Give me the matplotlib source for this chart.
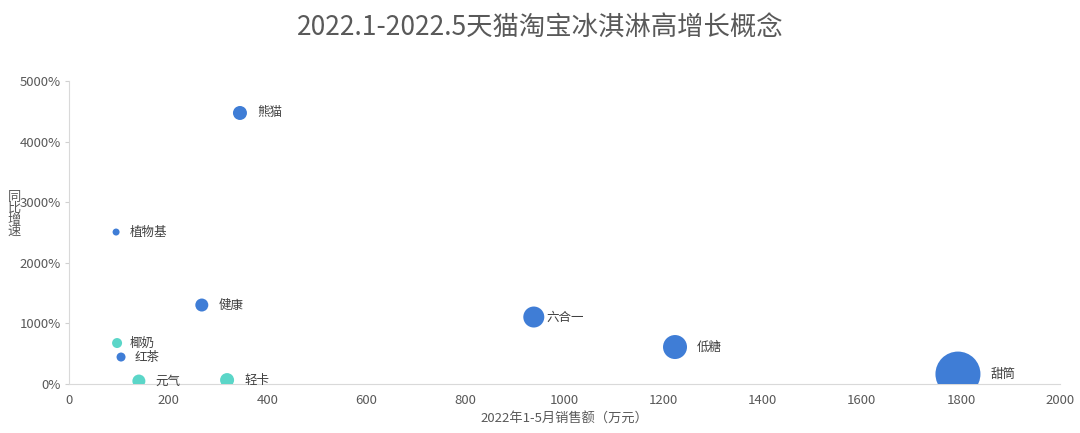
import matplotlib
matplotlib.use("Agg")
import matplotlib.pyplot as plt
from matplotlib.ticker import FuncFormatter

plt.rcParams['font.family'] = ['Noto Sans CJK SC', 'DejaVu Sans']

# data
names = ["熊猫", "植物基", "健康", "六合一", "低糖", "甜筒", "椰奶", "红茶", "元气", "轻卡"]
sales = [345, 95, 268, 938, 1223, 1794, 97, 105, 141, 319]          # 万元
growth = [4472, 2508, 1304, 1106, 611, 165, 677, 446, 50, 66]       # %
radius = [7, 3.5, 6.5, 10.5, 12, 22.5, 5, 4.5, 6.5, 7]              # bubble radius, px
group = ["b", "b", "b", "b", "b", "b", "t", "b", "t", "t"]
gap = [10, 10, 10, 2, 10, 10, 8, 9, 10, 10]                         # label gap, px

colors = {"b": "#3f7dd6", "t": "#5bd6c8"}

fig = plt.figure(figsize=(10.8, 4.33), dpi=100)
ax = fig.add_axes([0.0639, 0.113, 0.9176, 0.70])

for n, x, y, r, g, d in zip(names, sales, growth, radius, group, gap):
    ax.scatter(x, y, s=(1.44 * r) ** 2, color=colors[g], edgecolors="none", zorder=3)
    off = (r + d) * 0.72
    ax.annotate(n, (x, y), xytext=(off, 0), textcoords="offset points",
                ha="left", va="center", fontsize=9, color="#404040")

ax.set_xlim(0, 2000)
ax.set_ylim(0, 5000)
ax.set_xticks(range(0, 2001, 200))
ax.set_yticks(range(0, 5001, 1000))
ax.yaxis.set_major_formatter(FuncFormatter(lambda v, p: f"{int(v)}%"))
ax.tick_params(axis="x", length=0, labelsize=9.5, labelcolor="#595959", pad=7)
ax.tick_params(axis="y", length=3, color="#d0d0d0", labelsize=9.5, labelcolor="#595959", pad=3)

for s in ["top", "right"]:
    ax.spines[s].set_visible(False)
ax.spines["left"].set_color("#d9d9d9")
ax.spines["bottom"].set_color("#d9d9d9")

ax.set_xlabel("2022年1-5月销售额（万元）", fontsize=9.5, color="#595959", labelpad=4)
fig.text(0.013, 0.505, "同\n比\n增\n速", fontsize=9.5, color="#595959",
         ha="center", va="center", linespacing=0.85)

fig.suptitle("2022.1-2022.5天猫淘宝冰淇淋高增长概念", y=0.965, fontsize=19, color="#595959")

plt.savefig("out.png", dpi=100)
